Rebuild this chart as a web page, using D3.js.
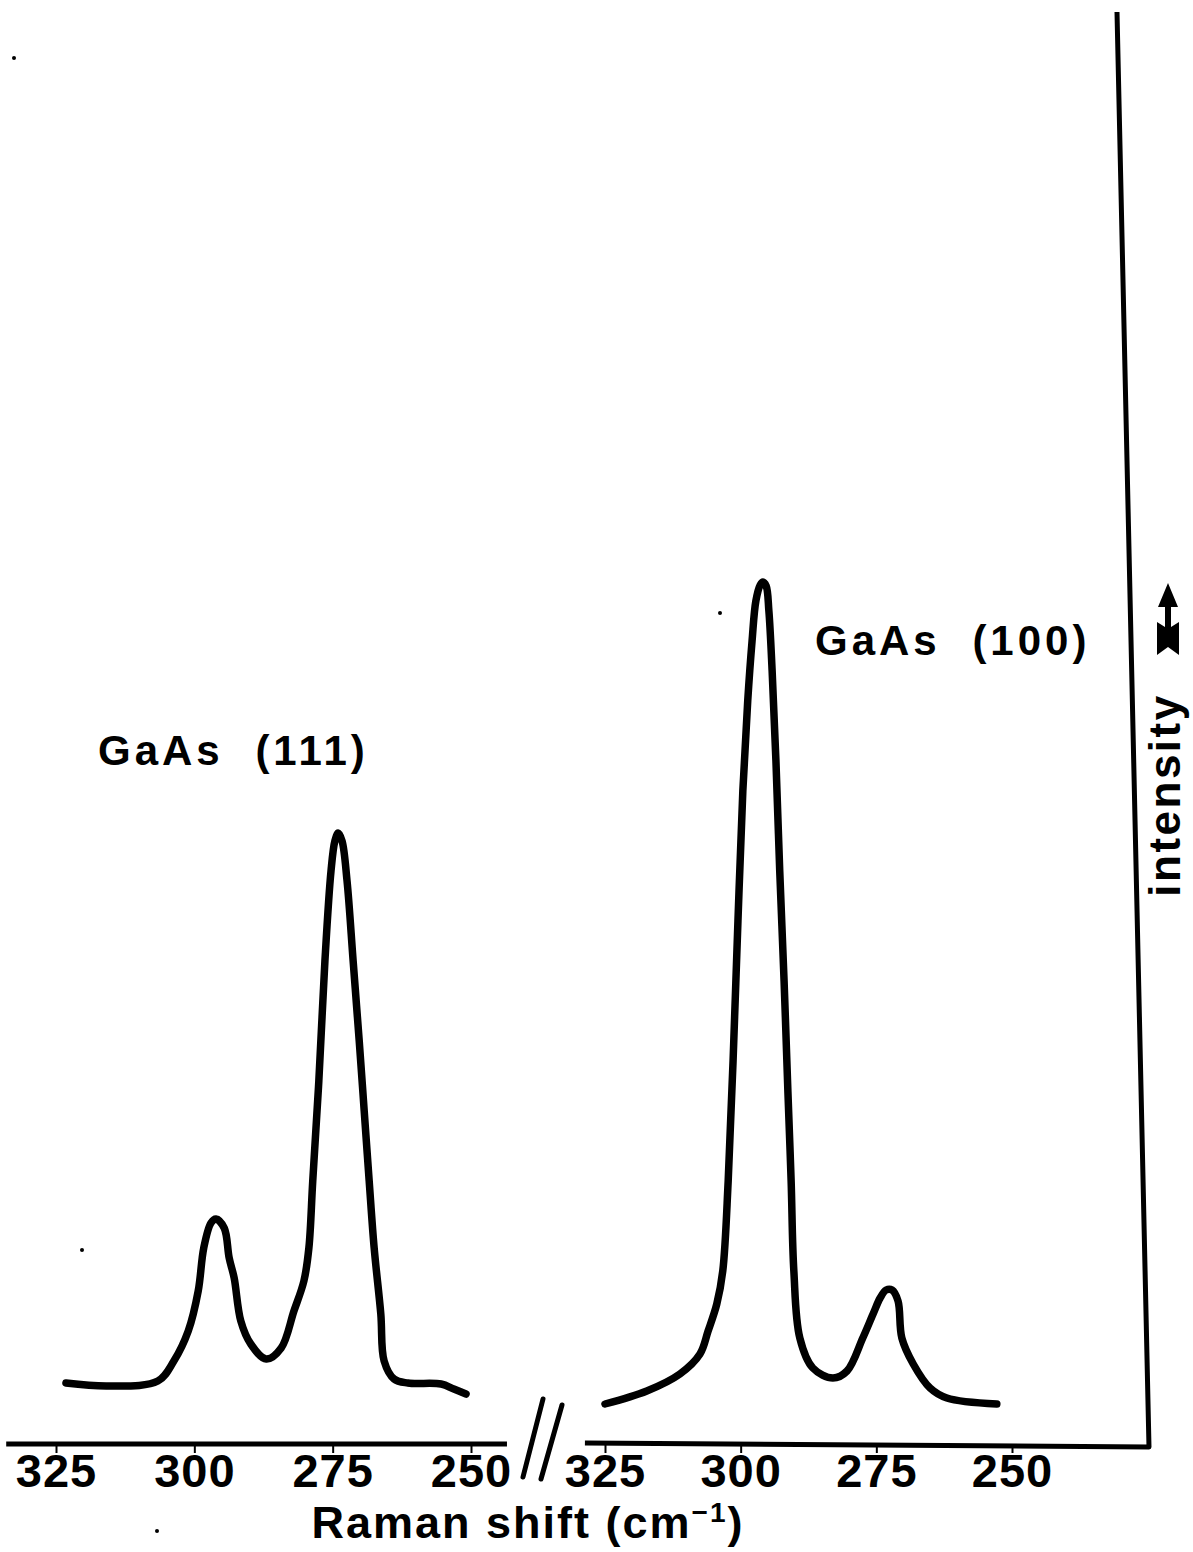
<!DOCTYPE html>
<html>
<head>
<meta charset="utf-8">
<script src="https://cdn.jsdelivr.net/npm/d3@7"></script>
<style>
  html, body { margin: 0; padding: 0; background: #fff; }
  svg { display: block; }
  text { font-family: "Liberation Sans", Arial, Helvetica, sans-serif; font-weight: bold; fill: #000; }
</style>
</head>
<body>
<svg id="chart" width="1193" height="1552"></svg>
<script>
// ---- data (Raman shift in cm^-1, intensity in arbitrary units) ----
const ticks = [325, 300, 275, 250];
const labelLeft = "GaAs (111)";
const labelRight = "GaAs (100)";
const xTitle = "Raman shift (cm";
const xTitleSup = "\u22121";
const yTitle = "intensity";

const shift111 = [323.2, 315.6, 306.6, 303.7, 301.1, 299.3, 298.3, 297.0, 296.1, 294.6, 293.7, 292.8, 291.6, 289.8, 287.0, 284.3, 282.0, 280.2, 279.3, 278.6, 277.5, 276.4, 275.3, 274.6, 274.0, 273.3, 272.4, 271.3, 270.2, 269.3, 268.4, 267.5, 266.3, 265.7, 263.9, 261.4, 255.4, 253.1, 250.9];
const int111 =   [6.1, 5.8, 6.3, 8.3, 11.3, 15.3, 19.6, 22.1, 22.5, 21.6, 18.6, 16.6, 12.3, 10.0, 8.5, 9.6, 13.3, 16.3, 19.6, 26.3, 36.3, 48.3, 57.3, 60.3, 61.1, 60.3, 56.3, 48.3, 40.3, 33.3, 26.3, 19.6, 13.0, 8.3, 6.5, 6.1, 6.0, 5.5, 5.0];

const shift100 = [325.0, 317.3, 311.2, 307.5, 306.0, 304.4, 303.3, 302.3, 301.4, 300.5, 299.6, 298.7, 297.9, 297.2, 296.4, 295.9, 295.3, 294.8, 294.2, 293.5, 292.8, 292.0, 291.3, 290.7, 290.2, 289.1, 286.7, 283.0, 280.4, 277.5, 275.6, 274.3, 273.2, 272.1, 271.0, 270.3, 268.2, 265.1, 262.0, 252.8];
const int100 =   [4.0, 5.3, 7.0, 9.0, 11.3, 14.0, 17.3, 26.3, 38.3, 52.3, 65.3, 74.3, 80.3, 84.3, 85.9, 86.2, 85.8, 83.3, 77.3, 68.3, 57.3, 46.3, 35.3, 26.3, 17.3, 10.6, 7.6, 6.6, 7.3, 10.6, 13.0, 14.6, 15.4, 15.4, 14.3, 10.6, 8.0, 5.6, 4.6, 4.0];

// ---- layout ----
const svg = d3.select("#chart");
const baseY = 1444;

const xL = d3.scaleLinear().domain([325, 250]).range([56, 471]);
const xR = d3.scaleLinear().domain([325, 250]).range([605, 1012]);
const y = d3.scaleLinear().domain([0, 100]).range([baseY, 444]);

const line = (xs) => d3.line()
  .x(d => xs(d[0]))
  .y(d => y(d[1]))
  .curve(d3.curveCatmullRom.alpha(0.5));

const d111 = shift111.map((s, i) => [s, int111[i]]);
const d100 = shift100.map((s, i) => [s, int100[i]]);

[[d111, xL], [d100, xR]].forEach(([data, xs]) => {
  svg.append("path").datum(data)
    .attr("d", line(xs))
    .attr("fill", "none").attr("stroke", "#000")
    .attr("stroke-width", 7.5).attr("stroke-linejoin", "round").attr("stroke-linecap", "round");
});

// ---- axes ----
svg.append("line")
  .attr("x1", xL(334)).attr("x2", xL(243.5))
  .attr("y1", baseY).attr("y2", baseY)
  .attr("stroke", "#000").attr("stroke-width", 5);

svg.append("path")
  .attr("d", `M${xR(328.7)},${baseY - 1} L1149,${baseY + 3} L1117,12`)
  .attr("fill", "none").attr("stroke", "#000")
  .attr("stroke-width", 5).attr("stroke-linejoin", "round");

function drawAxis(scale) {
  const g = svg.append("g").attr("transform", `translate(0,${baseY})`)
    .call(d3.axisBottom(scale).tickValues(ticks).tickSizeInner(9).tickSizeOuter(0).tickPadding(34).tickFormat(d3.format("d")));
  g.select(".domain").remove();
  g.selectAll(".tick line").attr("stroke", "#000").attr("stroke-width", 2);
  g.selectAll(".tick text")
    .attr("dy", 0)
    .style("font-size", "47px")
    .style("letter-spacing", "1px")
    .style("font-family", '"Liberation Sans", Arial, sans-serif')
    .style("font-weight", "bold")
    .attr("fill", "#000");
}
drawAxis(xL);
drawAxis(xR);

// axis break marks
svg.append("line").attr("x1", 543).attr("y1", 1399).attr("x2", 523).attr("y2", 1477)
  .attr("stroke", "#000").attr("stroke-width", 5).attr("stroke-linecap", "round");
svg.append("line").attr("x1", 562).attr("y1", 1405).attr("x2", 541).attr("y2", 1479)
  .attr("stroke", "#000").attr("stroke-width", 5).attr("stroke-linecap", "round");

// x-axis title
const xt = svg.append("text")
  .attr("x", 528).attr("y", 1538)
  .attr("text-anchor", "middle")
  .style("font-size", "45px")
  .style("letter-spacing", "2px");
xt.append("tspan").text(xTitle);
xt.append("tspan").text(xTitleSup).style("font-size", "28px").attr("dy", -16);
xt.append("tspan").text(")").attr("dy", 16);

// series labels
svg.append("text").attr("x", 98).attr("y", 765)
  .style("font-size", "42px").style("letter-spacing", "4px").style("word-spacing", "16px")
  .text(labelLeft);
svg.append("text").attr("x", 815).attr("y", 655)
  .style("font-size", "42px").style("letter-spacing", "4px").style("word-spacing", "16px")
  .text(labelRight);

// y-axis title (rotated)
svg.append("text")
  .attr("transform", "translate(1180,795) rotate(-90)")
  .attr("text-anchor", "middle")
  .style("font-size", "44px").style("letter-spacing", "2.5px")
  .text(yTitle);

// intensity arrow
svg.append("path")
  .attr("d", "M1168,583 L1178,607 L1171,607 L1171,627 L1179,622 L1179,655 L1168,647 L1157,655 L1157,622 L1165,627 L1165,607 L1158,607 Z")
  .attr("fill", "#000");

// specks in the scan
[[14, 58], [82, 1250], [720, 613], [157, 1531]].forEach(p => {
  svg.append("circle").attr("cx", p[0]).attr("cy", p[1]).attr("r", 2).attr("fill", "#000");
});
</script>
</body>
</html>
